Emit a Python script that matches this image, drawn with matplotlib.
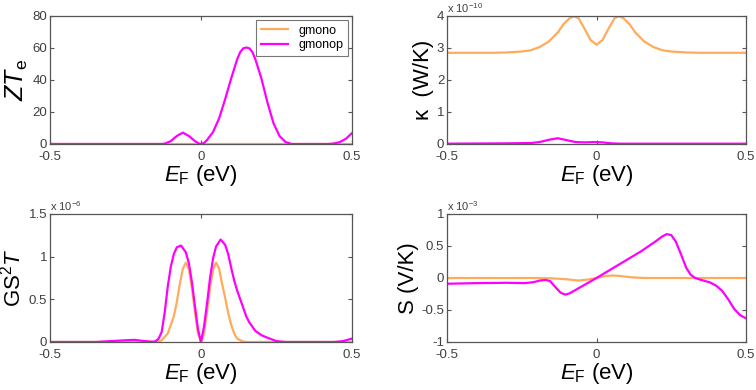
import matplotlib
matplotlib.use("Agg")
import matplotlib.pyplot as plt

plt.rcParams['font.family'] = ['Liberation Sans', 'DejaVu Sans']
plt.rcParams['mathtext.fontset'] = 'custom'
plt.rcParams['mathtext.rm'] = 'Liberation Sans'
plt.rcParams['mathtext.it'] = 'Liberation Sans:italic'

ORANGE = '#ffab5c'
MAGENTA = '#ff00ff'
labels = ['gmono', 'gmonop']

# ZT_e
zt_mono_x = [-0.5, 0.5]
zt_mono_y = [0, 0]
zt_monop_x = [-0.5, -0.13, -0.12, -0.10, -0.08, -0.06, -0.04, -0.02, -0.005, 0.0, 0.01, 0.02,
              0.04, 0.06, 0.08, 0.10, 0.12, 0.13, 0.14, 0.15, 0.16, 0.17, 0.18, 0.20, 0.22,
              0.24, 0.26, 0.28, 0.30, 0.42, 0.44, 0.46, 0.48, 0.50]
zt_monop_y = [0, 0, 0.2, 1.8, 5.0, 7.1, 5.0, 1.8, 0.1, 0, 0.6, 2.5,
              7.5, 16, 28, 41, 53, 57.5, 59.8, 60.3, 59.8, 57.5, 53, 41, 26,
              13, 5, 1.2, 0, 0, 0.3, 1.2, 3.3, 6.8]

# kappa (x 1e-10 W/K)
k_mono_x = [-0.5, -0.35, -0.30, -0.25, -0.22, -0.19, -0.16, -0.13, -0.11, -0.09, -0.075, -0.06,
            -0.04, -0.02, 0.0, 0.02, 0.04, 0.06, 0.075, 0.09, 0.11, 0.13, 0.16, 0.19, 0.22,
            0.25, 0.30, 0.35, 0.5]
k_mono_y = [2.85, 2.85, 2.86, 2.89, 2.93, 3.03, 3.2, 3.48, 3.75, 3.93, 3.99, 3.93,
            3.6, 3.25, 3.1, 3.25, 3.6, 3.93, 3.99, 3.93, 3.75, 3.48, 3.2, 3.03, 2.93,
            2.89, 2.86, 2.85, 2.85]
k_monop_x = [-0.5, -0.3, -0.22, -0.19, -0.16, -0.13, -0.10, -0.07, -0.04, -0.01, 0.02, 0.05,
             0.08, 0.5]
k_monop_y = [0.01, 0.02, 0.03, 0.06, 0.13, 0.18, 0.12, 0.06, 0.05, 0.06, 0.05, 0.02,
             0.01, 0.01]

# GS^2T (x 1e-6)
g_mono_x = [-0.5, -0.15, -0.13, -0.11, -0.09, -0.08, -0.07, -0.06, -0.05, -0.04, -0.03, -0.02,
            -0.01, 0.0, 0.01, 0.02, 0.03, 0.04, 0.05, 0.06, 0.07, 0.08, 0.09, 0.10, 0.11,
            0.12, 0.135, 0.15, 0.5]
g_mono_y = [0, 0, 0.02, 0.1, 0.3, 0.47, 0.68, 0.86, 0.93, 0.85, 0.63, 0.35,
            0.1, 0, 0.1, 0.35, 0.63, 0.85, 0.93, 0.86, 0.68, 0.52, 0.34, 0.2, 0.1,
            0.04, 0.01, 0, 0]
g_monop_x = [-0.5, -0.35, -0.30, -0.25, -0.22, -0.19, -0.16, -0.15, -0.14, -0.13, -0.12, -0.11,
             -0.10, -0.09, -0.08, -0.066, -0.05, -0.04, -0.03, -0.02, -0.01, 0.0, 0.01, 0.02,
             0.03, 0.04, 0.05, 0.065, 0.08, 0.09, 0.10, 0.11, 0.12, 0.13, 0.14, 0.15, 0.16,
             0.18, 0.20, 0.22, 0.25, 0.28, 0.44, 0.47, 0.5]
g_monop_y = [0, 0, 0.01, 0.02, 0.025, 0.012, 0.003, 0.01, 0.04, 0.12, 0.35, 0.65,
             0.88, 1.03, 1.11, 1.13, 1.05, 0.92, 0.7, 0.42, 0.15, 0.0, 0.18, 0.45,
             0.75, 0.98, 1.12, 1.2, 1.14, 1.03, 0.87, 0.72, 0.6, 0.5, 0.4, 0.3, 0.23,
             0.13, 0.08, 0.05, 0.01, 0, 0, 0.01, 0.04]

# S (x 1e-3 V/K)
s_mono_x = [-0.5, -0.2, -0.15, -0.1, -0.06, -0.03, 0.0, 0.03, 0.055, 0.08, 0.12, 0.16, 0.5]
s_mono_y = [0, 0, -0.005, -0.02, -0.04, -0.025, 0, 0.03, 0.04, 0.03, 0.01, 0.0, 0]
s_monop_x = [-0.5, -0.4, -0.3, -0.24, -0.21, -0.19, -0.17, -0.155, -0.14, -0.12, -0.105, -0.09,
             -0.06, -0.03, 0.0, 0.05, 0.10, 0.15, 0.20, 0.22, 0.235, 0.25, 0.265, 0.28,
             0.30, 0.315, 0.33, 0.35, 0.38, 0.40, 0.42, 0.44, 0.46, 0.48, 0.50]
s_monop_y = [-0.09, -0.08, -0.075, -0.08, -0.065, -0.04, -0.03, -0.05, -0.13, -0.23, -0.26, -0.24,
             -0.16, -0.08, 0, 0.14, 0.28, 0.42, 0.58, 0.65, 0.685, 0.67, 0.57, 0.40,
             0.16, 0.05, 0.0, -0.03, -0.07, -0.12, -0.2, -0.33, -0.48, -0.58, -0.63]

fig = plt.figure(figsize=(7.56, 3.9), dpi=100)
axes = [
    fig.add_axes([0.0661, 0.6308, 0.3995, 0.3282]),
    fig.add_axes([0.5913, 0.6308, 0.3955, 0.3282]),
    fig.add_axes([0.0661, 0.1231, 0.3995, 0.3282]),
    fig.add_axes([0.5913, 0.1231, 0.3955, 0.3282]),
]

panels = [
    (zt_mono_x, zt_mono_y, zt_monop_x, zt_monop_y, (0, 80), [0, 20, 40, 60, 80],
     ['0', '20', '40', '60', '80'], r'$ZT_{\mathrm{e}}$', None, 18),
    (k_mono_x, k_mono_y, k_monop_x, k_monop_y, (0, 4), [0, 1, 2, 3, 4],
     ['0', '1', '2', '3', '4'], 'κ  (W/K)', r'x 10$^{-10}$', 16),
    (g_mono_x, g_mono_y, g_monop_x, g_monop_y, (0, 1.5), [0, 0.5, 1, 1.5],
     ['0', '0.5', '1', '1.5'], r'$\mathrm{GS}^{2}T$', r'x 10$^{-6}$', 16),
    (s_mono_x, s_mono_y, s_monop_x, s_monop_y, (-1, 1), [-1, -0.5, 0, 0.5, 1],
     ['-1', '-0.5', '0', '0.5', '1'], 'S (V/K)', r'x 10$^{-3}$', 16),
]

for ax, (x1, y1, x2, y2, ylim, yt, ytl, ylab, expo, ysize) in zip(axes, panels):
    ax.plot(x1, y1, color=ORANGE, lw=1.6, label=labels[0])
    ax.plot(x2, y2, color=MAGENTA, lw=1.6, label=labels[1])
    ax.set_xlim(-0.5, 0.5)
    ax.set_ylim(*ylim)
    ax.set_xticks([-0.5, 0, 0.5])
    ax.set_xticklabels(['-0.5', '0', '0.5'])
    ax.set_yticks(yt)
    ax.set_yticklabels(ytl)
    ax.tick_params(direction='in', length=3, width=0.8, top=True, right=True,
                   labelsize=9.5, labelcolor='#404040', color='#555555')
    ax.tick_params(axis='x', pad=5)
    ax.tick_params(axis='y', pad=2)
    for sp in ax.spines.values():
        sp.set_color('#555555')
        sp.set_linewidth(0.9)
    ax.set_xlabel(r'$E_{\mathrm{F}}$ (eV)', fontsize=16, labelpad=0)
    ax.set_ylabel(ylab, fontsize=ysize, labelpad=2)
    if expo:
        ax.text(0.0, 1.005, expo, transform=ax.transAxes, ha='left', va='bottom',
                fontsize=8, color='#404040')

leg = axes[0].legend(loc='upper right', fontsize=9, frameon=True, fancybox=False,
                     borderaxespad=0.3, handlelength=2.2, labelspacing=0.2)
leg.get_frame().set_edgecolor('#555555')
leg.get_frame().set_linewidth(0.8)

fig.savefig('out.png', dpi=100)
